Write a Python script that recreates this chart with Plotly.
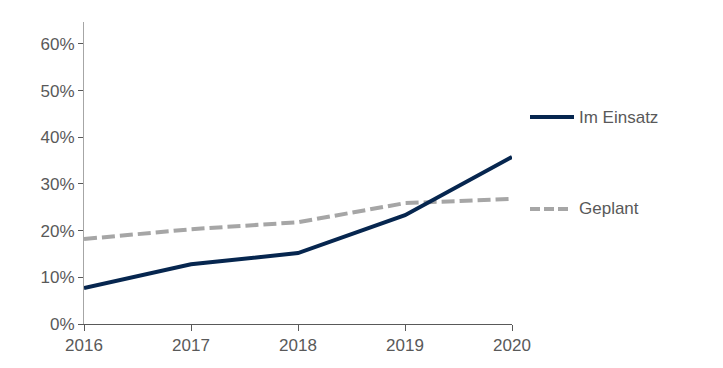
import plotly.graph_objects as go

years = [2016, 2017, 2018, 2019, 2020]
im_einsatz = [0.077, 0.128, 0.152, 0.233, 0.358]
geplant = [0.182, 0.203, 0.218, 0.259, 0.268]
y_ticks = [0, 0.1, 0.2, 0.3, 0.4, 0.5, 0.6]
y_labels = ["0%", "10%", "20%", "30%", "40%", "50%", "60%"]

NAVY = "#06264f"
GRAY = "#a6a6a6"
TXT = "#595959"
FONT = "Liberation Sans, Arial, sans-serif"

fig = go.Figure()
fig.add_trace(go.Scatter(x=years, y=geplant, mode="lines", name="Geplant",
                         line=dict(color=GRAY, width=4, dash="13px,5px"), hoverinfo="skip"))
fig.add_trace(go.Scatter(x=years, y=im_einsatz, mode="lines", name="Im Einsatz",
                         line=dict(color=NAVY, width=4), hoverinfo="skip"))

OFF = 8  # page body margin
W, H = 715, 360
L, R, T, B = 84 - OFF, 211, 22 - OFF, 44
pw, ph = W - L - R, H - T - B

def px(x):
    return (x - OFF - L) / pw

def py(y):
    return (H - B - (y - OFF)) / ph

legend_items = [("Im Einsatz", NAVY, "solid", 117, 574), ("Geplant", GRAY, "10px,4px", 209, 572)]
shapes = []
annotations = []
for name, col, dash, yy, x1 in legend_items:
    shapes.append(dict(type="line", xref="paper", yref="paper", x0=px(530), x1=px(x1),
                       y0=py(yy), y1=py(yy), line=dict(color=col, width=4, dash=dash)))
    annotations.append(dict(xref="paper", yref="paper", x=px(577), y=py(yy), text=name,
                            showarrow=False, xanchor="left", yanchor="middle",
                            font=dict(family=FONT, size=17, color=TXT)))

fig.update_layout(
    width=W, height=H,
    margin=dict(l=L, r=R, t=T, b=B),
    paper_bgcolor="white", plot_bgcolor="white",
    showlegend=False,
    font=dict(family=FONT, size=17, color=TXT),
    shapes=shapes, annotations=annotations,
    xaxis=dict(range=[2016, 2020], tickvals=years, ticktext=[str(y) for y in years],
               showgrid=False, zeroline=False, showline=True, linecolor="#595959", linewidth=1,
               ticks="outside", ticklen=6, tickcolor="#595959", tickfont=dict(size=17, color=TXT)),
    yaxis=dict(range=[0, 0.647], tickvals=y_ticks, ticktext=y_labels,
               showgrid=False, zeroline=False, showline=True, linecolor="#a6a6a6", linewidth=1,
               ticks="outside", ticklen=5, tickcolor="#595959", tickfont=dict(size=17, color=TXT)),
)

fig.write_html("out.html")
